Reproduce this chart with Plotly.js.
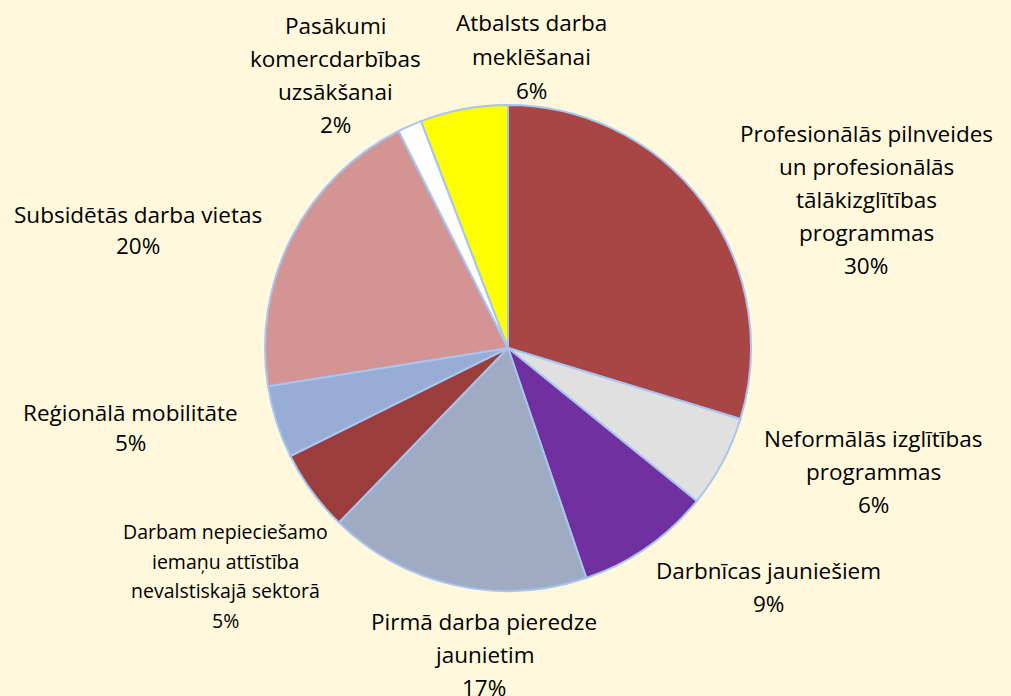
<!DOCTYPE html>
<html>
<head>
<meta charset="utf-8">
<script src="https://cdn.plot.ly/plotly-3.0.1.min.js"></script>
<style>html,body{margin:0;padding:0;background:#FFF8DC;}#chart{width:1011px;height:696px;}</style>
</head>
<body>
<div id="chart"></div>
<script>
// Data
const labels = [
  "Profesionālās pilnveides<br>un profesionālās<br>tālākizglītības<br>programmas",
  "Neformālās izglītības<br>programmas",
  "Darbnīcas jauniešiem",
  "Pirmā darba pieredze<br>jaunietim",
  "Darbam nepieciešamo<br>iemaņu attīstība<br>nevalstiskajā sektorā",
  "Reģionālā mobilitāte",
  "Subsidētās darba vietas",
  "Pasākumi<br>komercdarbības<br>uzsākšanai",
  "Atbalsts darba<br>meklēšanai"
];
const values = [29.6, 6.1, 8.9, 17.4, 5.4, 4.8, 20.0, 1.6, 5.8];
const colors = ["#A84646", "#E0E0E0", "#7030A0", "#9EABC3", "#9B3D3D", "#97ADD5", "#D49494", "#FFFFFF", "#FFFF00"];

// Layout helpers: label centre positions (px) and font sizes
const labelPos = [[866, 199], [873, 472], [768, 587], [484, 654], [225, 576], [130, 427], [138, 230], [335, 75], [531, 56]];
const labelFont = [22.5, 22.5, 22.5, 22.5, 19.5, 22.5, 22.5, 22.5, 22.5];
const lineGap = [33, 33, 33, 33, 29.5, 30, 31, 33, 34];

const W = 1011, H = 696;
const cx = 508, cy = 348, R = 243;
const total = values.reduce((a, b) => a + b, 0);

const annotations = [];
labels.forEach((lab, i) => {
  const lines = lab.split("<br>").concat([Math.round(values[i] / total * 100) + "%"]);
  const n = lines.length;
  lines.forEach((ln, j) => {
    annotations.push({
      xref: "paper", yref: "paper",
      x: labelPos[i][0] / W, y: 1 - labelPos[i][1] / H,
      xanchor: "center", yanchor: "middle",
      yshift: -(j - (n - 1) / 2) * lineGap[i],
      text: ln, showarrow: false,
      font: {family: "'Open Sans', 'Noto Sans', sans-serif", size: labelFont[i], color: "#000000"}
    });
  });
});

const trace = {
  type: "pie",
  labels: labels.map(l => l.replace(/<br>/g, " ")),
  values: values,
  sort: false,
  direction: "clockwise",
  rotation: 0,
  textinfo: "none",
  hoverinfo: "label+percent",
  marker: {colors: colors, line: {color: "#A9C4EE", width: 2}},
  domain: {x: [(cx - R) / W, (cx + R) / W], y: [(H - cy - R) / H, (H - cy + R) / H]},
  showlegend: false
};

const layout = {
  width: W, height: H,
  margin: {l: 0, r: 0, t: 0, b: 0},
  paper_bgcolor: "#FFF8DC",
  plot_bgcolor: "#FFF8DC",
  showlegend: false,
  annotations: annotations
};

Plotly.newPlot("chart", [trace], layout, {displayModeBar: false, staticPlot: true});
</script>
</body>
</html>
